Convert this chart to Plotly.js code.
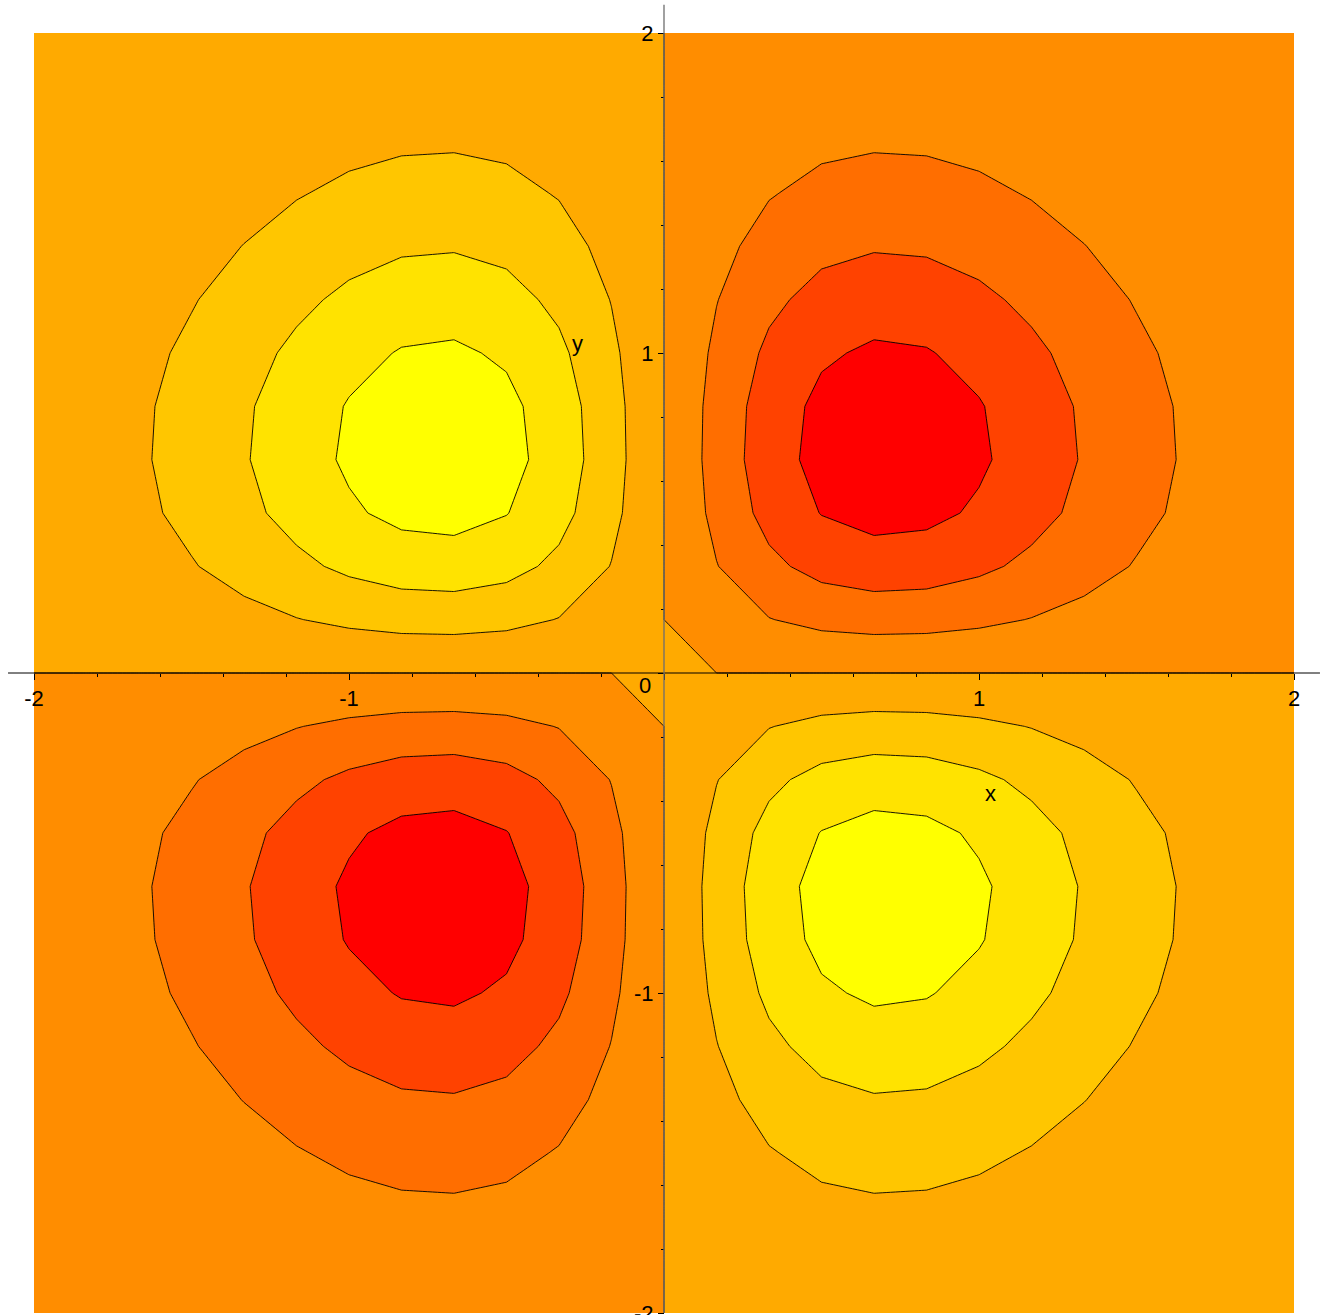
<!DOCTYPE html>
<html>
<head>
<meta charset="utf-8">
<script src="https://cdn.plot.ly/plotly-3.0.1.min.js"></script>
<style>
  html, body { margin: 0; padding: 0; background: #ffffff; }
  #chart { width: 1322px; height: 1315px; }
</style>
</head>
<body>
<div id="chart"></div>
<script>
// grid coordinates (25 x 25 sample grid over [-2,2] x [-2,2])
const gridX = [-2,-1.8333,-1.6667,-1.5,-1.3333,-1.1667,-1,-0.8333,-0.6667,-0.5,-0.3333,-0.1667,0,0.1667,0.3333,0.5,0.6667,0.8333,1,1.1667,1.3333,1.5,1.6667,1.8333,2];
const gridY = [-2,-1.8333,-1.6667,-1.5,-1.3333,-1.1667,-1,-0.8333,-0.6667,-0.5,-0.3333,-0.1667,0,0.1667,0.3333,0.5,0.6667,0.8333,1,1.1667,1.3333,1.5,1.6667,1.8333,2];

// surface values, one row per y (from y = -2 up to y = 2)
const zValues = [
[.0013,.0023,.0038,.0058,.0083,.0110,.0135,.0152,.0157,.0143,.0109,.0059,0,-.0059,-.0109,-.0143,-.0157,-.0152,-.0135,-.0110,-.0083,-.0058,-.0038,-.0023,-.0013],
[.0023,.0040,.0066,.0101,.0143,.0190,.0234,.0265,.0272,.0248,.0190,.0103,0,-.0103,-.0190,-.0248,-.0272,-.0265,-.0234,-.0190,-.0143,-.0101,-.0066,-.0040,-.0023],
[.0038,.0066,.0107,.0164,.0234,.0310,.0381,.0431,.0443,.0404,.0309,.0168,0,-.0168,-.0309,-.0404,-.0443,-.0431,-.0381,-.0310,-.0234,-.0164,-.0107,-.0066,-.0038],
[.0058,.0101,.0164,.0250,.0356,.0473,.0582,.0658,.0676,.0616,.0472,.0256,0,-.0256,-.0472,-.0616,-.0676,-.0658,-.0582,-.0473,-.0356,-.0250,-.0164,-.0101,-.0058],
[.0083,.0143,.0234,.0356,.0508,.0674,.0829,.0938,.0963,.0878,.0672,.0365,0,-.0365,-.0672,-.0878,-.0963,-.0938,-.0829,-.0674,-.0508,-.0356,-.0234,-.0143,-.0083],
[.0110,.0190,.0310,.0473,.0674,.0895,.1100,.1245,.1279,.1165,.0892,.0485,0,-.0485,-.0892,-.1165,-.1279,-.1245,-.1100,-.0895,-.0674,-.0473,-.0310,-.0190,-.0110],
[.0135,.0234,.0381,.0582,.0829,.1100,.1353,.1531,.1573,.1433,.1097,.0596,0,-.0596,-.1097,-.1433,-.1573,-.1531,-.1353,-.1100,-.0829,-.0582,-.0381,-.0234,-.0135],
[.0152,.0265,.0431,.0658,.0938,.1245,.1531,.1732,.1779,.1620,.1241,.0675,0,-.0675,-.1241,-.1620,-.1779,-.1732,-.1531,-.1245,-.0938,-.0658,-.0431,-.0265,-.0152],
[.0157,.0272,.0443,.0676,.0963,.1279,.1573,.1779,.1827,.1664,.1275,.0693,0,-.0693,-.1275,-.1664,-.1827,-.1779,-.1573,-.1279,-.0963,-.0676,-.0443,-.0272,-.0157],
[.0143,.0248,.0404,.0616,.0878,.1165,.1433,.1620,.1664,.1516,.1161,.0631,0,-.0631,-.1161,-.1516,-.1664,-.1620,-.1433,-.1165,-.0878,-.0616,-.0404,-.0248,-.0143],
[.0109,.0190,.0309,.0472,.0672,.0892,.1097,.1241,.1275,.1161,.0890,.0484,0,-.0484,-.0890,-.1161,-.1275,-.1241,-.1097,-.0892,-.0672,-.0472,-.0309,-.0190,-.0109],
[.0059,.0103,.0168,.0256,.0365,.0485,.0596,.0675,.0693,.0631,.0484,.0263,0,-.0263,-.0484,-.0631,-.0693,-.0675,-.0596,-.0485,-.0365,-.0256,-.0168,-.0103,-.0059],
[0,0,0,0,0,0,0,0,0,0,0,0,0,0,0,0,0,0,0,0,0,0,0,0,0],
[-.0059,-.0103,-.0168,-.0256,-.0365,-.0485,-.0596,-.0675,-.0693,-.0631,-.0484,-.0263,0,.0263,.0484,.0631,.0693,.0675,.0596,.0485,.0365,.0256,.0168,.0103,.0059],
[-.0109,-.0190,-.0309,-.0472,-.0672,-.0892,-.1097,-.1241,-.1275,-.1161,-.0890,-.0484,0,.0484,.0890,.1161,.1275,.1241,.1097,.0892,.0672,.0472,.0309,.0190,.0109],
[-.0143,-.0248,-.0404,-.0616,-.0878,-.1165,-.1433,-.1620,-.1664,-.1516,-.1161,-.0631,0,.0631,.1161,.1516,.1664,.1620,.1433,.1165,.0878,.0616,.0404,.0248,.0143],
[-.0157,-.0272,-.0443,-.0676,-.0963,-.1279,-.1573,-.1779,-.1827,-.1664,-.1275,-.0693,0,.0693,.1275,.1664,.1827,.1779,.1573,.1279,.0963,.0676,.0443,.0272,.0157],
[-.0152,-.0265,-.0431,-.0658,-.0938,-.1245,-.1531,-.1732,-.1779,-.1620,-.1241,-.0675,0,.0675,.1241,.1620,.1779,.1732,.1531,.1245,.0938,.0658,.0431,.0265,.0152],
[-.0135,-.0234,-.0381,-.0582,-.0829,-.1100,-.1353,-.1531,-.1573,-.1433,-.1097,-.0596,0,.0596,.1097,.1433,.1573,.1531,.1353,.1100,.0829,.0582,.0381,.0234,.0135],
[-.0110,-.0190,-.0310,-.0473,-.0674,-.0895,-.1100,-.1245,-.1279,-.1165,-.0892,-.0485,0,.0485,.0892,.1165,.1279,.1245,.1100,.0895,.0674,.0473,.0310,.0190,.0110],
[-.0083,-.0143,-.0234,-.0356,-.0508,-.0674,-.0829,-.0938,-.0963,-.0878,-.0672,-.0365,0,.0365,.0672,.0878,.0963,.0938,.0829,.0674,.0508,.0356,.0234,.0143,.0083],
[-.0058,-.0101,-.0164,-.0250,-.0356,-.0473,-.0582,-.0658,-.0676,-.0616,-.0472,-.0256,0,.0256,.0472,.0616,.0676,.0658,.0582,.0473,.0356,.0250,.0164,.0101,.0058],
[-.0038,-.0066,-.0107,-.0164,-.0234,-.0310,-.0381,-.0431,-.0443,-.0404,-.0309,-.0168,0,.0168,.0309,.0404,.0443,.0431,.0381,.0310,.0234,.0164,.0107,.0066,.0038],
[-.0023,-.0040,-.0066,-.0101,-.0143,-.0190,-.0234,-.0265,-.0272,-.0248,-.0190,-.0103,0,.0103,.0190,.0248,.0272,.0265,.0234,.0190,.0143,.0101,.0066,.0040,.0023],
[-.0013,-.0023,-.0038,-.0058,-.0083,-.0110,-.0135,-.0152,-.0157,-.0143,-.0109,-.0059,0,.0059,.0109,.0143,.0157,.0152,.0135,.0110,.0083,.0058,.0038,.0023,.0013]
];

// contour levels and band colours (lowest band first)
const levelStart = -0.15, levelEnd = 0.15, levelStep = 0.05;
const bandColors = ['#FFFF00','#FFE300','#FFC600','#FFAA00','#FF8D00','#FF6E00','#FF4200','#FF0000'];

// tick labels
const tickVals = [-2, -1, 0, 1, 2];
const xTickText = ['-2', '-1', '', '1', '2'];
const yTickText = ['-2', '-1', '', '1', '2'];

const colorscale = bandColors.map((c, i) => [i / (bandColors.length - 1), c]);

const trace = {
  type: 'contour',
  x: gridX,
  y: gridY,
  z: zValues,
  colorscale: colorscale,
  showscale: false,
  autocontour: false,
  contours: { start: levelStart, end: levelEnd, size: levelStep, coloring: 'fill', showlines: true },
  line: { color: '#000000', width: 0.9, smoothing: 0 },
  hoverinfo: 'x+y+z'
};

const font = { family: 'Liberation Sans, Arial, sans-serif', size: 22, color: '#000000' };

const layout = {
  width: 1322,
  height: 1315,
  margin: { l: 34, r: 28, t: 33, b: 2, pad: 0 },
  paper_bgcolor: '#ffffff',
  plot_bgcolor: '#ffffff',
  showlegend: false,
  font: font,
  xaxis: {
    range: [-2, 2],
    anchor: 'free',
    position: 0.5,
    showgrid: false,
    zeroline: false,
    showline: false,
    tickmode: 'array',
    tickvals: tickVals,
    ticktext: xTickText,
    ticks: 'outside',
    ticklen: 6,
    tickcolor: '#000000',
    tickfont: font,
    ticklabeloverflow: 'allow',
    minor: { tickmode: 'linear', tick0: 0, dtick: 0.2, ticks: 'outside', ticklen: 3, tickcolor: '#000000', showgrid: false }
  },
  yaxis: {
    range: [-2, 2],
    anchor: 'free',
    position: 0.5,
    showgrid: false,
    zeroline: false,
    showline: false,
    tickmode: 'array',
    tickvals: tickVals,
    ticktext: yTickText,
    ticks: 'outside',
    ticklen: 6,
    tickcolor: '#000000',
    tickfont: font,
    ticklabeloverflow: 'allow',
    minor: { tickmode: 'linear', tick0: 0, dtick: 0.2, ticks: 'outside', ticklen: 3, tickcolor: '#000000', showgrid: false }
  },
  shapes: [
    { type: 'line', xref: 'paper', yref: 'y', x0: -0.0206, x1: 1.0206, y0: 0, y1: 0, line: { color: '#000000', width: 1 }, layer: 'above' },
    { type: 'line', xref: 'x', yref: 'paper', x0: 0, x1: 0, y0: 0, y1: 1.022, line: { color: '#6e6e6e', width: 1.3 }, layer: 'above' }
  ],
  annotations: [
    { x: -0.06, y: -0.04, xref: 'x', yref: 'y', text: '0', showarrow: false, font: font, xanchor: 'center', yanchor: 'middle' },
    { x: 1.035, y: -0.375, xref: 'x', yref: 'y', text: 'x', showarrow: false, font: font, xanchor: 'center', yanchor: 'middle' },
    { x: -0.276, y: 1.031, xref: 'x', yref: 'y', text: 'y', showarrow: false, font: font, xanchor: 'center', yanchor: 'middle' }
  ]
};

Plotly.newPlot('chart', [trace], layout, { displayModeBar: false, staticPlot: true });
</script>
</body>
</html>
